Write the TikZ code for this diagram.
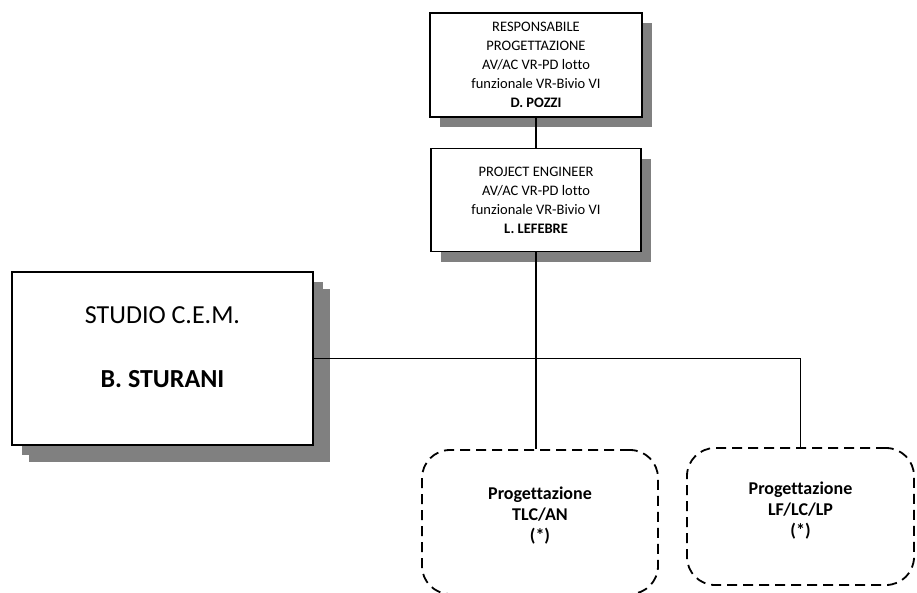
\documentclass[tikz,border=0pt]{standalone}
\usepackage{fontspec}
\setmainfont{Carlito}[Ligatures={NoCommon}]
\usetikzlibrary{positioning}

\tikzset{
    ruolo/.style={draw, line width=1.6pt, fill=white, align=center,
        font=\fontsize{14.5}{19}\selectfont, inner sep=0pt,
        preaction={fill=black!50, transform canvas={xshift=10pt, yshift=-10pt}}},
    gruppo/.style={draw, line width=1.8pt, dash pattern=on 10pt off 6pt,
        rounded corners=28pt, align=center, inner sep=0pt,
        font=\fontsize{18}{21}\selectfont\bfseries},
    filo/.style={line width=1.2pt}
}

\begin{document}
\begin{tikzpicture}[x=1pt, y=-1pt]
    \useasboundingbox (0,0) rectangle (917,593);
    \clip (0,0) rectangle (917,593);

    \node[ruolo, minimum width=212pt, minimum height=104pt] (resp) at (536,65)
        {RESPONSABILE\\PROGETTAZIONE\\AV/AC VR-PD lotto\\funzionale VR-Bivio VI\\\textbf{D. POZZI}};
    \node[ruolo, minimum width=210pt, minimum height=103pt, below=30pt of resp] (pe)
        {PROJECT ENGINEER\\AV/AC VR-PD lotto\\funzionale VR-Bivio VI\\\textbf{L. LEFEBRE}};

    \node[ruolo, line width=2.6pt, minimum width=301pt, minimum height=173pt,
        font=\fontsize{26}{32}\selectfont, text depth=22pt,
        preaction={fill=black!50, transform canvas={xshift=17pt, yshift=-17pt}}]
        (studio) at (162.5,358.5) {STUDIO C.E.M.\\[32pt]\textbf{B. STURANI}};

    \node[gruppo, minimum width=236pt, minimum height=144pt, text depth=16pt] (tlc) at (540,522)
        {Progettazione\\TLC/AN\\(*)};
    \node[gruppo, minimum width=227pt, minimum height=137pt, text depth=15pt] (lf) at (800.5,516.5)
        {Progettazione\\LF/LC/LP\\(*)};

    \draw[filo] (resp.south) -- (resp.south |- pe.north);
    \draw[filo] (pe.south) -- (pe.south |- tlc.north);
    \draw[filo] (studio.east) -- (lf.north |- studio.east) -- (lf.north);
\end{tikzpicture}
\end{document}
